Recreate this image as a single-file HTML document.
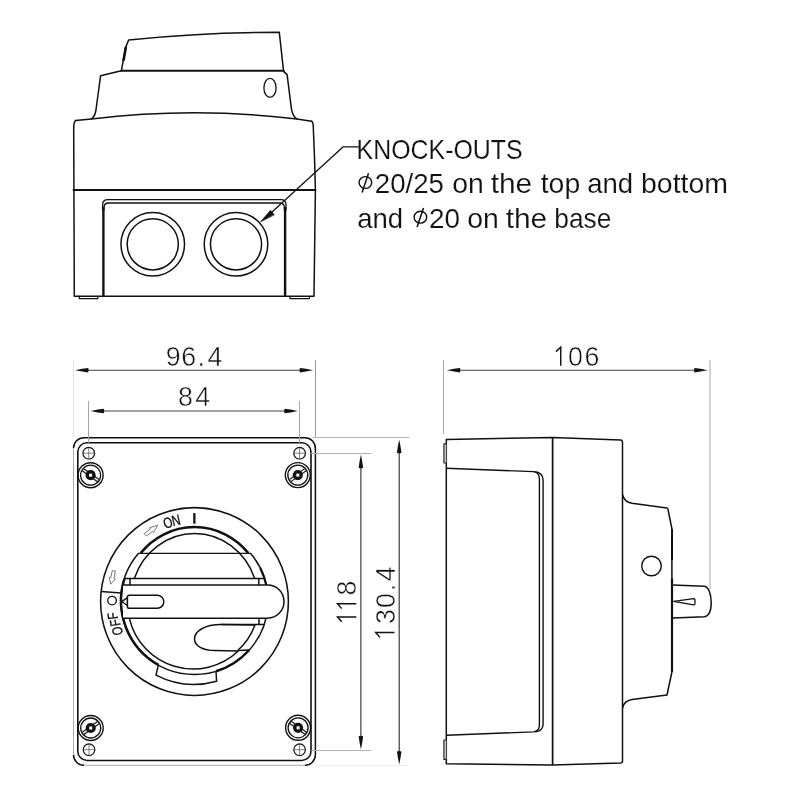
<!DOCTYPE html>
<html><head><meta charset="utf-8"><title>Switch drawing</title>
<style>
html,body{margin:0;padding:0;background:#fff;width:800px;height:800px;overflow:hidden}
svg{display:block;filter:grayscale(1)}
text{font-family:"Liberation Sans",sans-serif}
</style></head><body>
<svg width="800" height="800" viewBox="0 0 800 800">
<rect width="800" height="800" fill="#fff"/>
<g fill="none" stroke="#111" stroke-width="1.5" stroke-linejoin="round" stroke-linecap="round">
<path d="M121.3,70.8 L125.8,47 L128.6,40.1 Q200,32.3 279.3,32.3 L283.6,71.4"/>
<path d="M125.8,47.5 L123.6,60" stroke-width="2.6"/>
<path d="M121.3,70.8 L283.6,70.8" stroke-width="2.1"/>
<path d="M121.3,70.8 L100.6,75.7 L95.9,110.5 Q94.8,116.5 91.5,118.9"/>
<path d="M283.6,71.4 L287.1,74.6 L291.5,109.3 Q292.8,116 296.8,118.9"/>
<ellipse cx="270" cy="87.9" rx="6.1" ry="9.5" stroke-width="1.3"/>
<path d="M75.6,120.6 L91.5,118.9 Q194,106.7 296.8,118.9 L311.6,121.2"/>
<path d="M75.6,120.6 Q73.8,122 73.7,128 L74.3,296.3 L314,296.3 L315.4,190 L314.6,160 L313.2,125 Q312.8,121.6 311.6,121.2"/>
<path d="M73.6,190 L315.3,190" stroke-width="2.1"/>
<path d="M79.2,296.3 L79.4,298.7 L97.8,298.7 L98,296.3" stroke-width="1.2"/>
<path d="M289.8,296.3 L290,298.7 L309.4,298.7 L309.6,296.3" stroke-width="1.2"/>
<path d="M102.6,210 L102.6,205 Q102.6,199.7 108,199.7 L281,199.7 Q286,199.7 286,205 L286,210" stroke-width="1.3"/>
<path d="M104,210 L104,207.5 Q104,203 108.5,203 L280,203 Q284.3,203 284.3,207.5 L284.3,210" stroke-width="1.3"/>
<path d="M103.4,207 V296.3 M285.1,207 V296.3" stroke-width="2.4" stroke-linecap="butt"/>
<circle cx="152.75" cy="244.3" r="31.8"/>
<circle cx="152.75" cy="244.3" r="25.6"/>
<circle cx="236" cy="244.3" r="31.8"/>
<circle cx="236" cy="244.3" r="25.6"/>
<path d="M358.5,146.8 L343.2,146.8 L266,217.5" stroke-width="1.3"/>
<path d="M260.9,221.4 L270.5,210.4 L274,214.6 Z" fill="#111" stroke-width="0.8"/>
</g>
<g fill="#111" stroke="#fff" stroke-width="0.15" font-size="27.6">
<text x="356.6" y="158.5" textLength="166" lengthAdjust="spacingAndGlyphs">KNOCK-OUTS</text>
<text x="374.8" y="192.9" textLength="69.2" lengthAdjust="spacingAndGlyphs">20/25</text>
<text x="452.2" y="192.9" textLength="31.6" lengthAdjust="spacingAndGlyphs">on</text>
<text x="490.7" y="192.9" textLength="41.5" lengthAdjust="spacingAndGlyphs">the</text>
<text x="540.7" y="192.9" textLength="39.5" lengthAdjust="spacingAndGlyphs">top</text>
<text x="587.2" y="192.9" textLength="46" lengthAdjust="spacingAndGlyphs">and</text>
<text x="641" y="192.9" textLength="87" lengthAdjust="spacingAndGlyphs">bottom</text>
<text x="357.2" y="227.6" textLength="46" lengthAdjust="spacingAndGlyphs">and</text>
<text x="429" y="227.6" textLength="31" lengthAdjust="spacingAndGlyphs">20</text>
<text x="467.2" y="227.6" textLength="31.6" lengthAdjust="spacingAndGlyphs">on</text>
<text x="505.7" y="227.6" textLength="41.5" lengthAdjust="spacingAndGlyphs">the</text>
<text x="554.3" y="227.6" textLength="57" lengthAdjust="spacingAndGlyphs">base</text>
</g>
<g fill="none" stroke="#111" stroke-width="1.4">
<ellipse cx="365.4" cy="182.5" rx="6.3" ry="5.9"/>
<path d="M368.5,173.3 L362.1,192.4" stroke-width="1.5"/>
<ellipse cx="420.4" cy="217.2" rx="6.3" ry="5.9"/>
<path d="M423.5,208 L417.1,227.1" stroke-width="1.5"/>
</g>
<defs>
<g id="scr">
<circle r="12.5" fill="none" stroke="#111" stroke-width="1.4"/>
<circle r="10" fill="none" stroke="#111" stroke-width="1.3"/>
<path d="M-7.6,-5.4 L7.6,5.4" stroke="#111" stroke-width="3.8"/>
<path d="M-7.3,-5.2 L7.3,5.2" stroke="#fff" stroke-width="1.5"/>
<circle r="5.1" fill="#111" stroke="none"/>
<rect x="-1.5" y="-1.5" width="3" height="3" fill="#fff" stroke="none"/>
</g>
<g id="xh">
<circle r="5.8" fill="none" stroke="#111" stroke-width="1.2"/>
<path d="M-5.8,0 H5.8 M0,-5.8 V5.8" stroke="#333" stroke-width="0.6"/>
</g>
</defs>
<g fill="none" stroke="#111" stroke-width="1.5">
<path d="M73.5,448.2 A10.5,10.5 0 0 1 84.0,437.7 H304.9 A10.5,10.5 0 0 1 315.4,448.2 V754.8 A10.5,10.5 0 0 1 304.9,765.3"/>
<path d="M84.0,765.3 A10.5,10.5 0 0 1 73.5,754.8"/>
</g>
<path d="M73.5,448.2 V754.8 M84.0,765.3 H304.9" fill="none" stroke="#aaa" stroke-width="1"/>
<rect x="77.8" y="442.8" width="233.2" height="317.7" rx="9.3" fill="none" stroke="#111" stroke-width="1.6"/>
<use href="#xh" x="88.75" y="453.2"/>
<use href="#xh" x="299.6" y="453.2"/>
<use href="#xh" x="89" y="749.7"/>
<use href="#xh" x="299.6" y="749.7"/>
<use href="#scr" transform="translate(90.6,475.2)"/>
<use href="#scr" transform="translate(297.8,475.1) scale(-1,1)"/>
<use href="#scr" transform="translate(90.7,728) scale(-1,1)"/>
<use href="#scr" transform="translate(298.1,727.8)"/>
<g fill="none" stroke="#111" stroke-width="1.5">
<circle cx="194.5" cy="601.5" r="93.9" stroke-width="1.55"/>
<path d="M138.75,553.1 A73.5,73.5 0 1 0 250.25,553.1"/>
<path d="M101.3,591.5 L121,592.9"/>
<path d="M158.4,664.9 L156,675.2 A82.6,82.6 0 0 0 216.6,681.2 L216,671.3"/>
<path d="M140.7,553.1 A70.5,73.5 0 0 1 248.3,553.1" stroke-width="2.5"/>
<path d="M260.18,568 A73.5,73.5 0 0 1 266.21,584.9" stroke-width="2.1"/>
<path d="M124.56,578.4 A73.5,73.5 0 0 0 158.4,664.9" stroke-width="2.5"/>
<path d="M216,671.3 A73.5,73.5 0 0 0 249.2,650" stroke-width="2.5"/>
<path d="M138.75,553.3 H250.25" stroke-width="1.3"/>
<path d="M134.3,578.4 A64,68 0 0 1 254.7,578.4"/>
<path d="M124.56,578.4 H264.44"/>
<path d="M130,578.4 V584.9 M258.8,578.4 V584.9"/>
<path d="M123,584.9 H267.5 A16.5,16.65 0 0 1 267.5,618.2 H123" fill="#fff"/>
<path d="M129.2,595.3 H157.3 A6.5,6.5 0 0 1 157.3,608.3 H129.2 Q127.4,608.3 127.4,606.5 V597.1 Q127.4,595.3 129.2,595.3 Z"/>
<path d="M121.8,601.6 L127.3,597.6 L127.3,605.5 Z" fill="#fff" stroke-width="1.4"/>
<path d="M221,624.5 H264.3 M259,618.2 V624.5"/>
<path d="M255,625 L221,624.5 C205,624.5 194.5,631 194.5,639 C194.5,646 203,650.5 215,650.6 L237.2,651 A65,65 0 0 0 255,625"/>
<path d="M238.5,650.6 L249.2,650"/>
<path d="M129.3,618.2 A65.5,65.5 0 0 0 238.5,650.8"/>
<path d="M194.35,513.1 V523.7" stroke-width="2.3"/>
<circle cx="112.05" cy="600.6" r="4.3" stroke-width="1.3"/>
</g>
<g fill="#111" stroke="#111" stroke-width="0.35">
<text transform="translate(169.58,527.53) rotate(-18.6) scale(0.78,1)" text-anchor="middle" font-size="14.8">O</text>
<text transform="translate(177.23,525.27) rotate(-12.8) scale(0.8,1)" text-anchor="middle" font-size="14.8">N</text>
<text transform="translate(122.25,630.32) rotate(-98.0) scale(0.78,1)" text-anchor="middle" font-size="14.2">O</text>
<text transform="translate(119.84,622.13) rotate(-99.0) scale(0.8,1)" text-anchor="middle" font-size="14.2">F</text>
<text transform="translate(117.45,615.32) rotate(-98.0) scale(0.8,1)" text-anchor="middle" font-size="14.2">F</text>
</g>
<g fill="none" stroke="#555" stroke-width="0.8" stroke-linejoin="round">
<path d="M144.2,533.6 L150.5,528.9 L149.6,527.7 L157.7,525.3 L153.6,532.5 L152.7,531.3 L146.3,536 Z"/>
<path d="M115.4,571.2 L113.9,578.6 L115.4,578.9 L110.6,584.2 L109.3,577.3 L110.8,577.5 L112.3,570.6 Z"/>
</g>
<g fill="none" stroke="#111" stroke-width="1.5" stroke-linejoin="round">
<path d="M446.3,439.5 L552.5,437.5 L620.5,440 Q622.5,440.3 622.5,442.5 L622.5,761 Q622.4,763 620.5,763.1 L552.5,764.9 L446.3,763.7 Z"/>
<path d="M622.5,494.5 Q624,501.8 632,503.3 L666.8,507.9 Q667.6,508.2 668,509.5 L671.9,528.7 L671.9,672 L667,695 L632,699.6 Q623.8,701.2 622.5,708"/>
<path d="M552.6,437.6 V764.9" stroke-width="1.7"/>
<path d="M446.3,468.2 L533.5,471.6 Q539.4,472.3 539.4,479 V725.5 Q539.4,730.8 533.5,731.9 L446.3,735.3" stroke-width="1.4"/>
<path d="M534.5,471.7 Q543.1,472.4 543.1,480 V724 Q543.1,731.2 535,731.9" stroke-width="1.4"/>
<path d="M446.3,443.9 H443.9 V463 H446.3 M446.3,740 H443.9 V759.4 H446.3" fill="#c4c4c4" stroke="#222" stroke-width="1.1"/>
<circle cx="651.5" cy="566" r="9.8" stroke-width="1.4"/>
<path d="M672.6,585.1 L704.5,586.3 C708.6,587 711.2,594 711.2,602.5 C711.2,610.5 708.6,616 704.5,616.8 L672.6,618.1"/>
<path d="M673.6,601.3 L693.6,598.6 Q695,598.6 695,600 L695,603.5 Q695,604.9 693.6,604.9 Z" stroke-width="1.3"/>
<path d="M672,578.5 V672" stroke-width="2.2"/>
<path d="M672,529 V560" stroke-width="2"/>
</g>
<g stroke-width="1" fill="none">
<path d="M73.5,360 V437.5" stroke="#e4e4e4"/>
<path d="M315.5,360 V437.5" stroke="#999"/>
<path d="M88.5,401 V442.8 M299.5,401 V442.8" stroke="#a4a4a4"/>
<path d="M313,437.5 H409.4" stroke="#b4b4b4"/>
<path d="M311,453.5 H371.2" stroke="#b0b0b0"/>
<path d="M311.3,750.5 H371.2" stroke="#b4b4b4"/>
<path d="M316,765.5 H408.7" stroke="#f0f0f0"/>
<path d="M443.5,360 V433.8" stroke="#aaa"/>
<path d="M710,360 V589" stroke="#aaa"/>
</g>
<g stroke="#444" stroke-width="1.1" fill="none">
<path d="M80,370.2 H308"/>
<path d="M95,411 H293"/>
<path d="M360.9,460 V743" stroke="#2a2a2a"/>
<path d="M399.2,444 V758" stroke="#2a2a2a"/>
<path d="M452,370.2 H702"/>
</g>
<g fill="#111" stroke="none">
<path d="M75.00,370.20 L82.26,368.81 L88.20,367.95 Q89.20,370.20 88.20,372.45 L82.26,371.59 Z"/>
<path d="M313.10,370.20 L305.84,371.59 L299.90,372.45 Q298.90,370.20 299.90,367.95 L305.84,368.81 Z"/>
<path d="M90.60,411.00 L97.86,409.61 L103.80,408.75 Q104.80,411.00 103.80,413.25 L97.86,412.39 Z"/>
<path d="M297.80,411.00 L290.54,412.39 L284.60,413.25 Q283.60,411.00 284.60,408.75 L290.54,409.61 Z"/>
<path d="M360.90,454.60 L362.29,461.86 L363.15,467.80 Q360.90,468.80 358.65,467.80 L359.50,461.86 Z"/>
<path d="M360.90,749.50 L359.50,742.24 L358.65,736.30 Q360.90,735.30 363.15,736.30 L362.29,742.24 Z"/>
<path d="M399.20,439.60 L400.59,446.86 L401.45,452.80 Q399.20,453.80 396.95,452.80 L397.81,446.86 Z"/>
<path d="M399.20,764.60 L397.81,757.34 L396.95,751.40 Q399.20,750.40 401.45,751.40 L400.59,757.34 Z"/>
<path d="M446.80,370.20 L454.06,368.81 L460.00,367.95 Q461.00,370.20 460.00,372.45 L454.06,371.59 Z"/>
<path d="M707.70,370.20 L700.44,371.59 L694.50,372.45 Q693.50,370.20 694.50,367.95 L700.44,368.81 Z"/>
</g>
<g fill="#111" stroke="#fff" stroke-width="0.5" font-size="26.8" text-anchor="middle">
<text x="173.1" y="365.8">9</text>
<text x="188.8" y="365.8">6</text>
<text x="201.15" y="365.8">.</text>
<text x="214.95" y="365.8">4</text>
<text x="185.5" y="406.2">8</text>
<text x="202.6" y="406.2">4</text>
<text x="575.4" y="365.8">0</text>
<text x="591.85" y="365.8">6</text>
<text transform="translate(356.3,588.1) rotate(-90)">8</text>
<text transform="translate(394.5,616.5) rotate(-90)">3</text>
<text transform="translate(394.5,600.6) rotate(-90)">0</text>
<text transform="translate(394.5,587.5) rotate(-90)">.</text>
<text transform="translate(394.5,573.75) rotate(-90)">4</text>
</g>
<g fill="none" stroke="#111" stroke-width="1.45" stroke-linecap="butt" stroke-linejoin="miter">
<path d="M555.9,351.6 L560.75,347.2 V365.8"/>
<path d="M341.7,621.8 L337.5,616.9 H356.3 M341.7,608.6 L337.5,603.75 H356.3"/>
<path d="M379.9,637.4 L375.7,632.5 H394.5"/>
</g>
</svg>
</body></html>
